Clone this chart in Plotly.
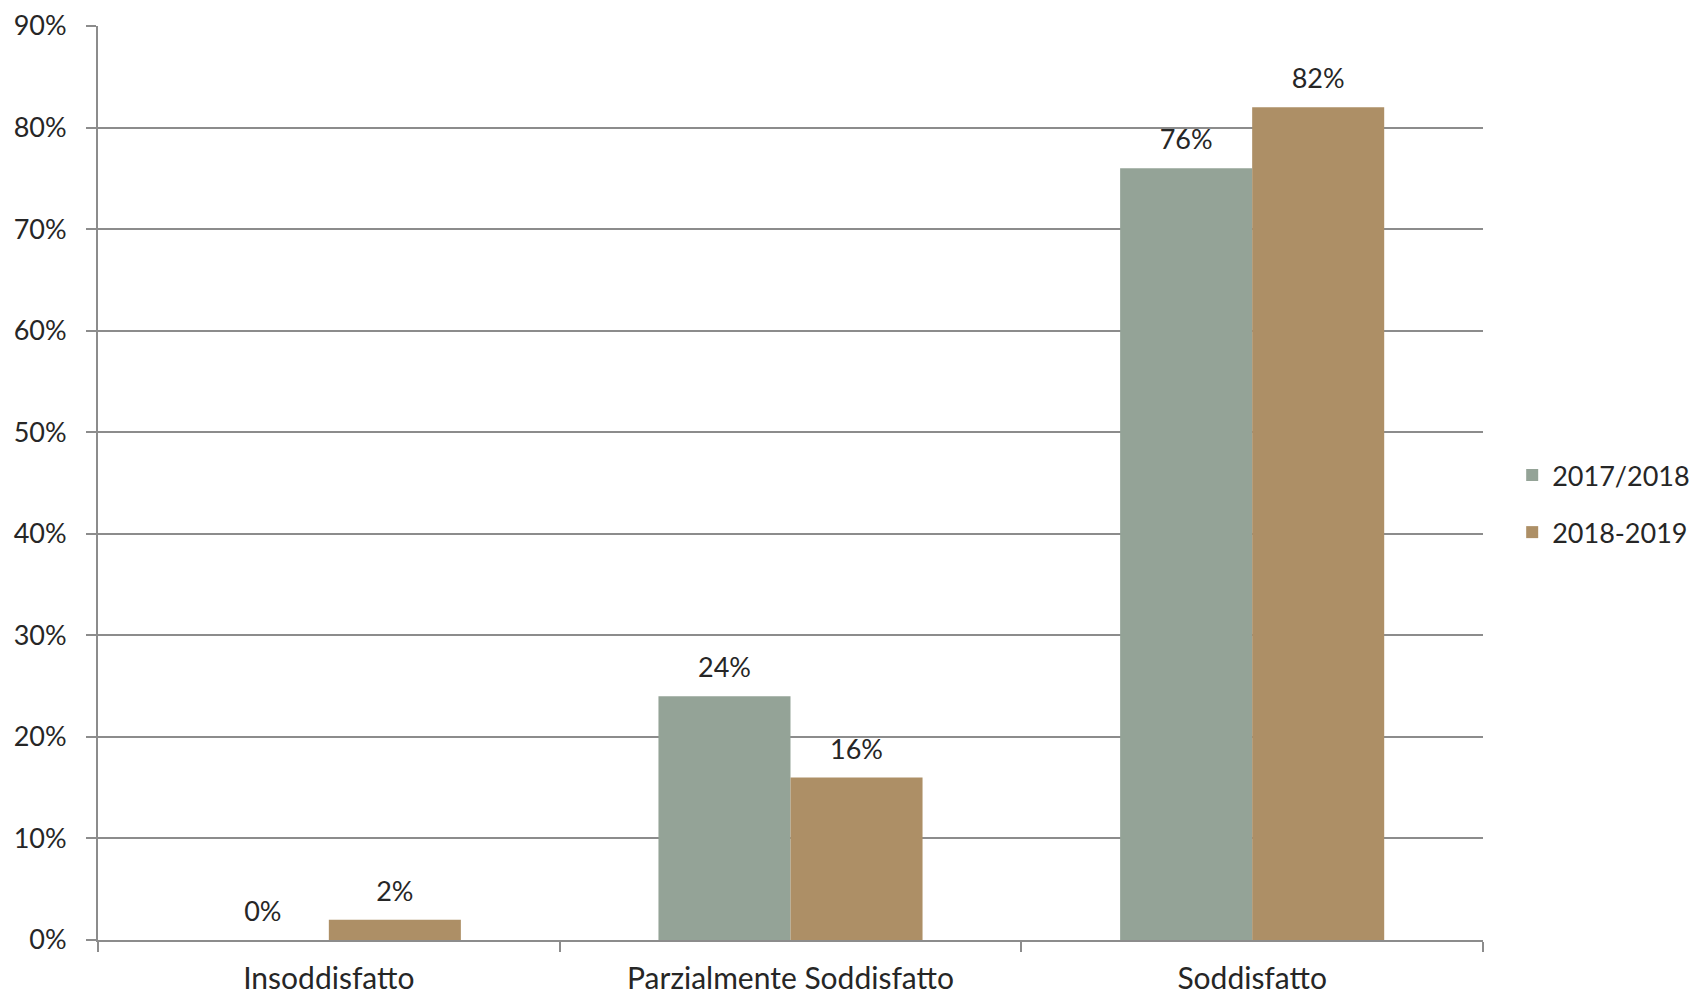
import plotly.graph_objects as go

categories = ["Insoddisfatto", "Parzialmente Soddisfatto", "Soddisfatto"]
series_names = ["2017/2018", "2018-2019"]
values_2017 = [0.00, 0.24, 0.76]
values_2018 = [0.02, 0.16, 0.82]
colors = ["#94A397", "#AD8F66"]

FONT = "Lato"
TXT = "#262626"
GAP = 0.428

fig = go.Figure()
for i, (name, vals, col) in enumerate(zip(series_names, [values_2017, values_2018], colors)):
    fig.add_trace(go.Bar(
        x=categories, y=vals, name=name,
        marker=dict(color=col, line=dict(width=0)),
        legendgroup=f"g{i}",
        offsetgroup=str(i),
    ))
for i, vals in enumerate([values_2017, values_2018]):
    fig.add_trace(go.Scatter(
        x=categories, y=vals, mode="markers+text",
        text=[f"{v:.0%}" for v in vals],
        textposition="top center",
        textfont=dict(family=FONT, size=27, color=TXT),
        marker=dict(size=18, opacity=0),
        offsetgroup=str(i),
        showlegend=False, hoverinfo="skip", cliponaxis=False,
    ))

fig.update_layout(
    width=1692, height=988,
    margin=dict(l=90, r=217, t=18, b=56),
    paper_bgcolor="white", plot_bgcolor="white",
    barmode="group", bargap=GAP, bargroupgap=0,
    scattermode="group", scattergap=GAP,
    font=dict(family=FONT, size=27, color=TXT),
    legend=dict(
        xref="container", yref="container",
        x=0.889, y=0.498, xanchor="left", yanchor="middle",
        font=dict(family=FONT, size=27, color=TXT),
        itemwidth=30, tracegroupgap=19,
    ),
    showlegend=True,
)
fig.update_xaxes(
    automargin=False,
    showline=True, linecolor="#8C8C8C", linewidth=2,
    ticks="outside", tickson="boundaries", ticklen=10, tickcolor="#8C8C8C", tickwidth=2,
    tickfont=dict(family=FONT, size=30, color=TXT),
    ticklabelstandoff=11,
    ticklabeloverflow="allow",
    showgrid=False,
)
fig.update_yaxes(
    automargin=False,
    range=[0, 0.9], dtick=0.1, tickformat=".0%",
    showline=True, linecolor="#8C8C8C", linewidth=2,
    ticks="outside", ticklen=10, tickcolor="#8C8C8C", tickwidth=2,
    showgrid=True, gridcolor="#8C8C8C", gridwidth=2,
    tickfont=dict(family=FONT, size=27, color=TXT),
    ticklabelstandoff=14,
    ticklabeloverflow="allow",
    zeroline=False,
)

fig.write_html("out.html")
